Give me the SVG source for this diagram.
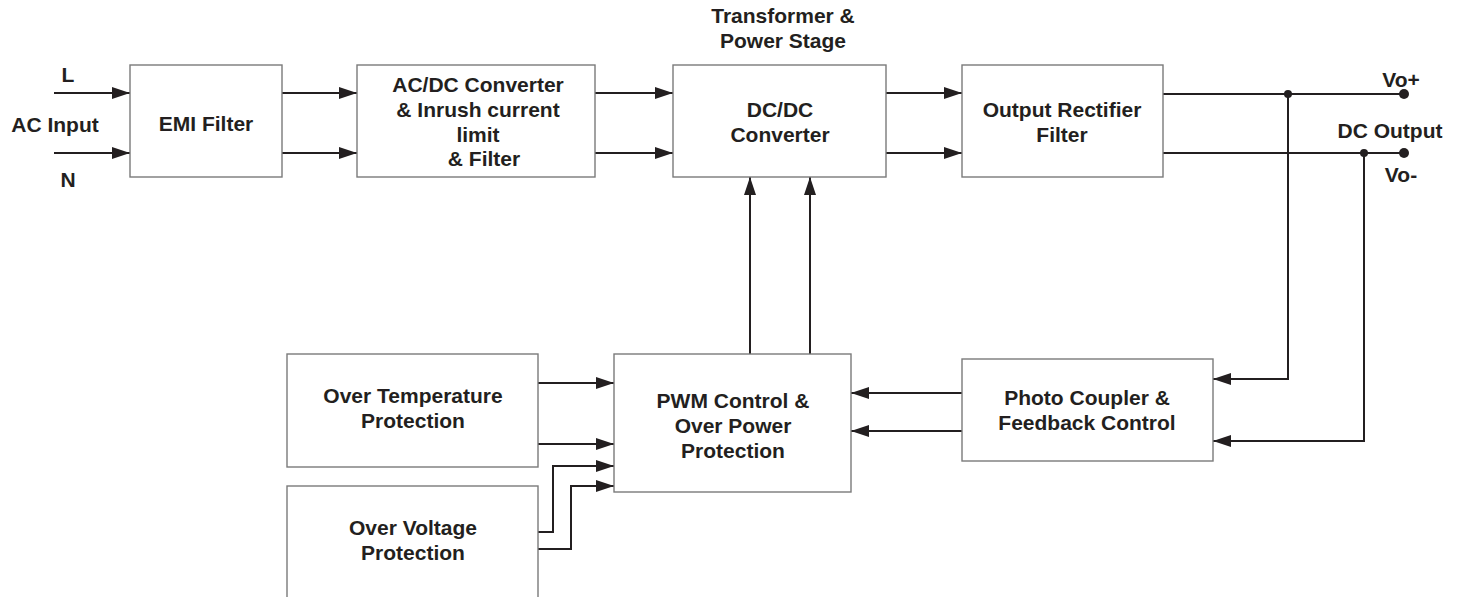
<svg xmlns="http://www.w3.org/2000/svg" width="1461" height="597" viewBox="0 0 1461 597">
<style>
.box{fill:#fff;stroke:#7a7a7a;stroke-width:1.4}
.t{font-family:"Liberation Sans",Arial,sans-serif;font-weight:bold;font-size:21px;fill:#231f20;text-anchor:middle}
.w{fill:none;stroke:#231f20;stroke-width:2}
.a{fill:none;stroke:#231f20;stroke-width:2;marker-end:url(#ah)}
.dot{fill:#231f20}
</style>
<defs>
<marker id="ah" viewBox="0 0 18 12" refX="18" refY="6" markerWidth="18" markerHeight="12" markerUnits="userSpaceOnUse" orient="auto">
<path d="M0,0 L18,6 L0,12 Z" fill="#231f20"/>
</marker>
</defs>
<rect width="1461" height="597" fill="#fff"/>
<g id="labels">
<text class="t" x="68" y="82">L</text>
<text class="t" x="55" y="132">AC Input</text>
<text class="t" x="68" y="187">N</text>
<text class="t" x="783" y="23">Transformer &amp;</text>
<text class="t" x="783" y="48">Power Stage</text>
<text class="t" x="1401" y="87">Vo+</text>
<text class="t" x="1390" y="138">DC Output</text>
<text class="t" x="1401" y="182">Vo-</text>
</g>
<g id="connectors">
<line class="a" x1="54" y1="93" x2="130" y2="93"/>
<line class="a" x1="54" y1="153" x2="130" y2="153"/>
<line class="a" x1="282" y1="93" x2="357" y2="93"/>
<line class="a" x1="282" y1="153" x2="357" y2="153"/>
<line class="a" x1="595" y1="93" x2="673" y2="93"/>
<line class="a" x1="595" y1="153" x2="673" y2="153"/>
<line class="a" x1="886" y1="93" x2="962" y2="93"/>
<line class="a" x1="886" y1="153" x2="962" y2="153"/>
<line class="w" x1="1163" y1="94" x2="1404" y2="94"/>
<line class="w" x1="1163" y1="153" x2="1404" y2="153"/>
<polyline class="a" points="1288,94 1288,379 1213,379"/>
<polyline class="a" points="1364,153 1364,441 1213,441"/>
<circle class="dot" cx="1288" cy="94" r="4"/>
<circle class="dot" cx="1364" cy="153" r="4"/>
<circle class="dot" cx="1404" cy="94" r="5"/>
<circle class="dot" cx="1404" cy="153" r="5"/>
<line class="a" x1="962" y1="393" x2="851" y2="393"/>
<line class="a" x1="962" y1="431" x2="851" y2="431"/>
<line class="a" x1="750" y1="354" x2="750" y2="177"/>
<line class="a" x1="810" y1="354" x2="810" y2="177"/>
<line class="a" x1="538" y1="383" x2="614" y2="383"/>
<line class="a" x1="538" y1="444" x2="614" y2="444"/>
<polyline class="a" points="538,532 553,532 553,466 614,466"/>
<polyline class="a" points="538,549 571,549 571,486 614,486"/>
</g>
<g id="emi">
<rect class="box" x="130" y="65" width="152" height="112"/>
<text class="t" x="206" y="131">EMI Filter</text>
</g>
<g id="acdc">
<rect class="box" x="357" y="65" width="238" height="112"/>
<text class="t" x="478" y="92">AC/DC Converter</text>
<text class="t" x="478" y="117">&amp; Inrush current</text>
<text class="t" x="478" y="142">limit</text>
<text class="t" x="484" y="166">&amp; Filter</text>
</g>
<g id="dcdc">
<rect class="box" x="673" y="65" width="213" height="112"/>
<text class="t" x="780" y="117">DC/DC</text>
<text class="t" x="780" y="142">Converter</text>
</g>
<g id="rect">
<rect class="box" x="962" y="65" width="201" height="112"/>
<text class="t" x="1062" y="117">Output Rectifier</text>
<text class="t" x="1062" y="142">Filter</text>
</g>
<g id="photo">
<rect class="box" x="962" y="359" width="251" height="102"/>
<text class="t" x="1087" y="405">Photo Coupler &amp;</text>
<text class="t" x="1087" y="430">Feedback Control</text>
</g>
<g id="pwm">
<rect class="box" x="614" y="354" width="237" height="138"/>
<text class="t" x="733" y="408">PWM Control &amp;</text>
<text class="t" x="733" y="433">Over Power</text>
<text class="t" x="733" y="458">Protection</text>
</g>
<g id="otp">
<rect class="box" x="287" y="354" width="251" height="113"/>
<text class="t" x="413" y="403">Over Temperature</text>
<text class="t" x="413" y="428">Protection</text>
</g>
<g id="ovp">
<rect class="box" x="287" y="486" width="251" height="120"/>
<text class="t" x="413" y="535">Over Voltage</text>
<text class="t" x="413" y="560">Protection</text>
</g>
</svg>
